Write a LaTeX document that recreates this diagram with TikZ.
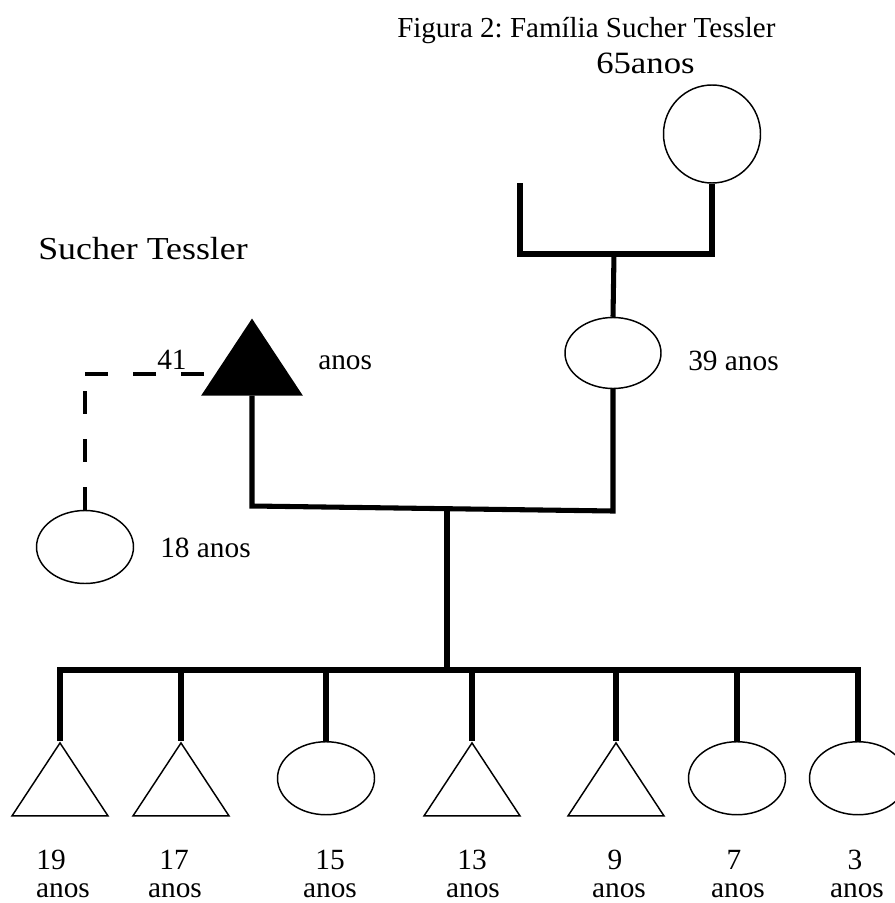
\documentclass[tikz,border=0pt]{standalone}
\usepackage{fontspec}
\setmainfont{Liberation Serif}
\newfontfamily\widefont[FakeStretch=1.12]{Liberation Serif}
\usetikzlibrary{shapes.geometric}
\frenchspacing
\begin{document}
\begin{tikzpicture}[x=0.75pt,y=-0.75pt,
  rel/.style={line width=3.8pt, line join=miter},
  kin/.style={line width=3.3pt, dash pattern=on 17.25pt off 18.75pt},
  fem/.style={ellipse, draw, line width=1.1pt, fill=white, inner sep=0pt,
    minimum width=72.75pt, minimum height=54.75pt},
  male/.style={isosceles triangle, isosceles triangle stretches,
    shape border rotate=90, draw, line width=1.1pt, fill=white, inner sep=0pt,
    minimum width=72pt, minimum height=54.75pt},
  lbl/.style={inner sep=0pt, font=\fontsize{22}{26}\selectfont},
]
\useasboundingbox (0,0) rectangle (895,903);
\clip (0,0) rectangle (895,903);

% headings
\node[inner sep=0pt, anchor=base west, font=\fontsize{21.75}{26}\selectfont]
  (title) at (397,37) {Figura 2: Família Sucher Tessler};
\node[inner sep=0pt, anchor=base west, font=\widefont\fontsize{23.25}{28}\selectfont]
  (gmage) at (596,73) {65anos};
\node[inner sep=0pt, anchor=base west, font=\widefont\fontsize{24}{29}\selectfont]
  (surname) at (38,259) {Sucher Tessler};

% grandmother and her partner's stub
\node[fem, minimum height=73.5pt] (gm) at (712,134) {};
\coordinate (gstub) at (520,183);
\coordinate (gbarL) at (520,254);
\coordinate (gbarR) at (712,254);
\coordinate (gmid) at (614,254);

% parents
\node[fem, minimum width=72pt, minimum height=53.25pt] (mo) at (613,353) {};
\node[male, fill=black, minimum width=74.25pt, minimum height=56.25pt,
  anchor=apex] (fa) at (252,318) {};
\node[fem] (hs) at (85,547) {};

\draw[rel] (gstub) -- (gbarL) -- (gbarR) -- (gm.south);
\draw[rel] (gmid) -- (mo.north);

\coordinate (pL) at (252,506);
\coordinate (pR) at (613,511);
\draw[rel] (fa.lower side) -- (pL) -- (pR) -- (mo.south);

% dashed link to the father's other daughter
\coordinate (dEnd) at (204,374);
\coordinate (dCorner) at (85,374);
\draw[kin] (dEnd) -- (dCorner);
\draw[kin] (hs.north) -- (dCorner);

% children
\node[male, anchor=apex] (c1) at (60,741) {};
\node[male, anchor=apex] (c2) at (181,741) {};
\node[fem, anchor=north] (c3) at (326,741) {};
\node[male, anchor=apex] (c4) at (472,741) {};
\node[male, anchor=apex] (c5) at (616,741) {};
\node[fem, anchor=north] (c6) at (737,741) {};
\node[fem, anchor=north] (c7) at (858,741) {};

\coordinate (stemT) at (447,508.7);
\coordinate (stemB) at (447,670);
\draw[rel] (stemT) -- (stemB);
\draw[rel] (c1.apex) -- (c1.apex |- stemB) -- (c7.north |- stemB) -- (c7.north);
\foreach \c/\a in {c2/apex, c3/north, c4/apex, c5/apex, c6/north}
  \draw[rel] (\c.\a |- stemB) -- (\c.\a);

% ages
\node[lbl, anchor=base west] (a41) at (157,369) {41};
\node[lbl, anchor=base west] (afa) at (318,369) {anos};
\node[lbl, anchor=base west] (a39) at (688,370) {39 anos};
\node[lbl, anchor=base west] (a18) at (160,557) {18 anos};

\foreach \n/\x/\y in {n1/51/19, n2/174/17, n3/330/15, n4/472/13,
    n5/615/9, n6/734/7, n7/855/3}
  \node[lbl, anchor=base] (\n) at (\x,869) {\y};
\foreach \n/\x in {y1/63, y2/175, y3/330, y4/473, y5/619, y6/738, y7/857}
  \node[lbl, anchor=base] (\n) at (\x,897) {anos};
\end{tikzpicture}
\end{document}
